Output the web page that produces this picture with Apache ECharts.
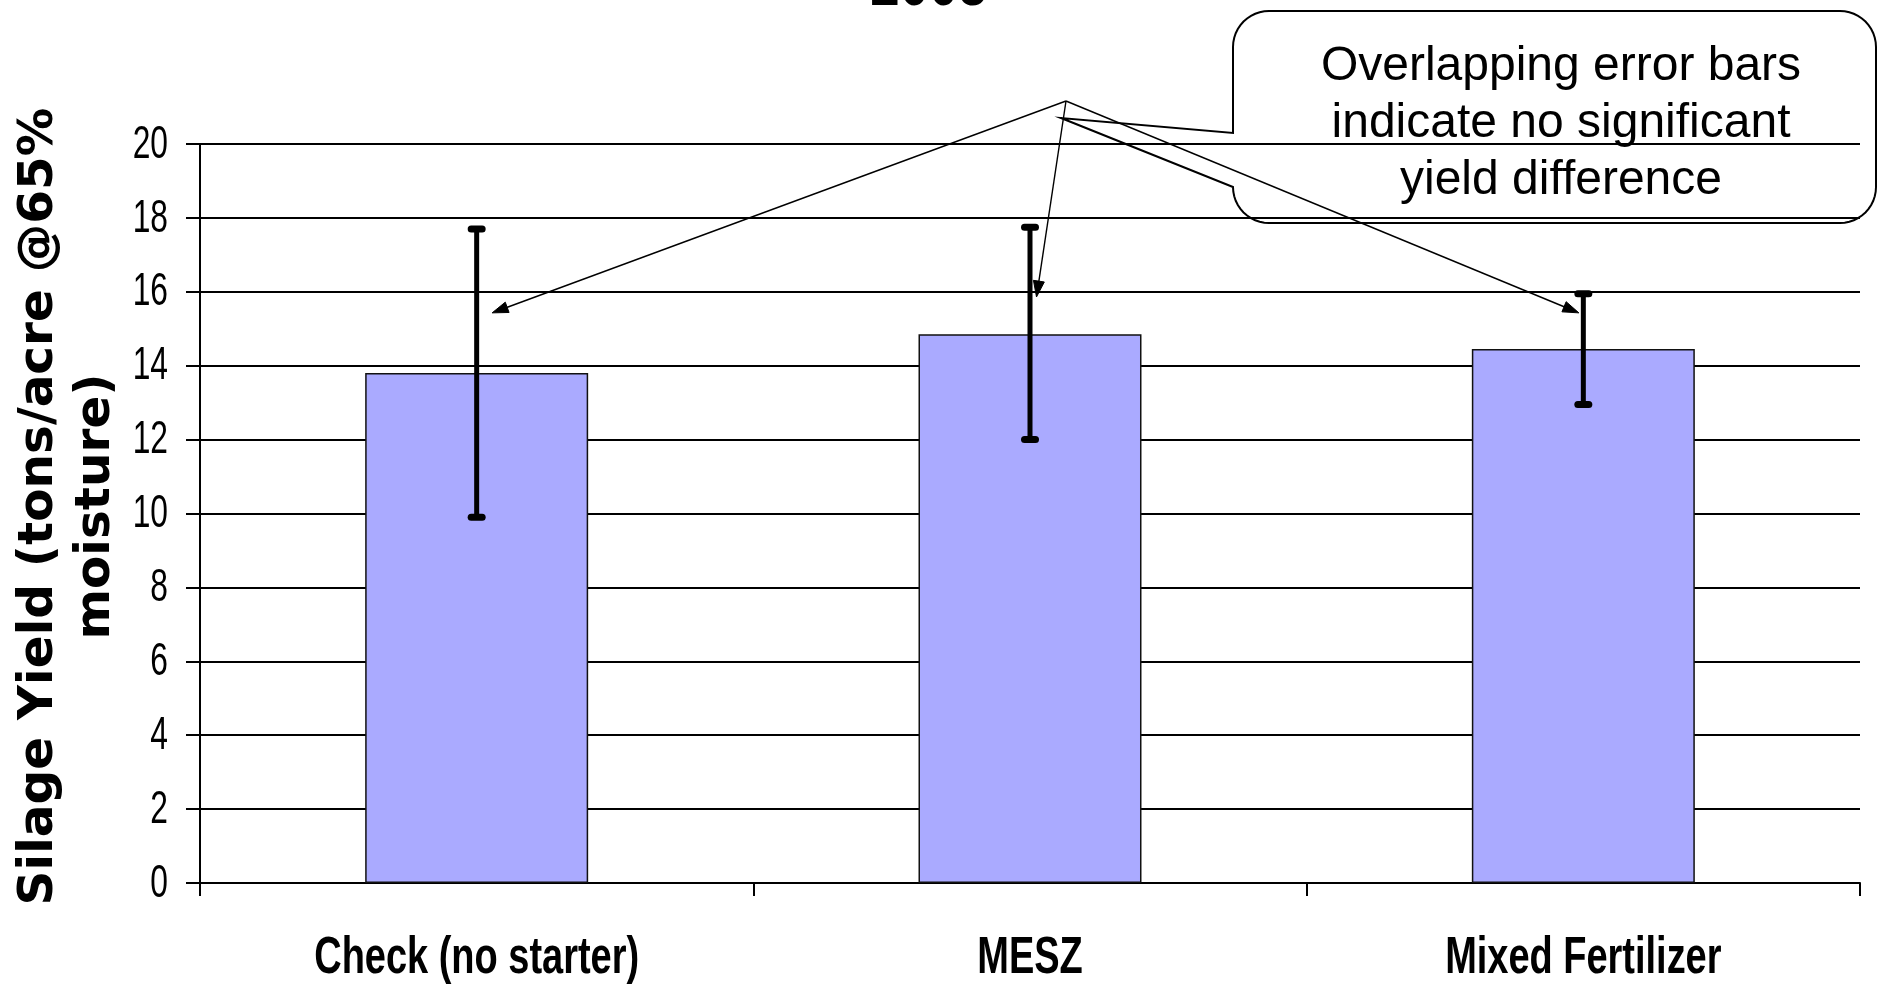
<!DOCTYPE html>
<html>
<head>
<meta charset="utf-8">
<script src="https://cdn.jsdelivr.net/npm/echarts@6/dist/echarts.min.js"></script>
<style>
html,body{margin:0;padding:0;background:#fff;overflow:hidden}
#c{width:1878px;height:988px}
</style>
</head>
<body>
<div id="c"></div>
<script>
// ---- data ----
const categories = ['Check (no starter)', 'MESZ', 'Mixed Fertilizer'];
const yieldMeans = [13.8, 14.85, 14.45];
const errorLow = [9.9, 12.0, 12.95];
const errorHigh = [17.7, 17.75, 15.95];
const yTickValues = [0, 2, 4, 6, 8, 10, 12, 14, 16, 18, 20];
const yTickLabels = ['0', '2', '4', '6', '8', '10', '12', '14', '16', '18', '20'];
const arrowTargets = [15.43, 15.86, 15.43];
const titleText = '2005';
const yAxisTitle = 'Silage Yield (tons/acre @65%\nmoisture)';
const calloutLines = ['Overlapping error bars', 'indicate no significant', 'yield difference'];

// ---- chart ----
const SANS = "'Liberation Sans',Arial,sans-serif";
const chart = echarts.init(document.getElementById('c'), null, {renderer: 'canvas', width: 1878, height: 988});

function renderErrorBar(params, api) {
  const x = api.value(0);
  const lo = api.coord([x, api.value(1)]);
  const hi = api.coord([x, api.value(2)]);
  const half = 5.5;
  return {
    type: 'group',
    children: [
      {type: 'line', shape: {x1: lo[0], y1: lo[1], x2: hi[0], y2: hi[1]}, style: {stroke: '#000', lineWidth: 5}},
      {type: 'line', shape: {x1: hi[0] - half, y1: hi[1], x2: hi[0] + half, y2: hi[1]}, style: {stroke: '#000', lineWidth: 7, lineCap: 'round'}},
      {type: 'line', shape: {x1: lo[0] - half, y1: lo[1], x2: lo[0] + half, y2: lo[1]}, style: {stroke: '#000', lineWidth: 7, lineCap: 'round'}}
    ]
  };
}

const option = {
  animation: false,
  backgroundColor: '#fff',
  grid: {left: 200, right: 18, top: 144, bottom: 105, outerBoundsMode: 'none', containLabel: false},
  xAxis: {
    type: 'category',
    data: categories,
    boundaryGap: true,
    axisLine: {lineStyle: {color: '#000', width: 2}},
    axisTick: {show: true, length: 13, lineStyle: {color: '#000', width: 2}},
    axisLabel: {show: false},
    splitLine: {show: false}
  },
  yAxis: {
    type: 'value',
    min: 0, max: 20, interval: 2,
    name: yAxisTitle,
    nameLocation: 'middle',
    nameRotate: 90,
    nameGap: 75,
    nameTextStyle: {fontFamily: "'DejaVu Sans',sans-serif", fontWeight: 'bold', fontSize: 48.5, lineHeight: 57, color: '#000', padding: [0, 0, 0, 14]},
    axisLine: {show: true, lineStyle: {color: '#000', width: 2}},
    axisTick: {show: true, length: 14, lineStyle: {color: '#000', width: 2}},
    axisLabel: {show: false},
    splitLine: {show: true, lineStyle: {color: '#000', width: 2}}
  },
  series: [
    {
      type: 'bar',
      data: yieldMeans,
      barWidth: '40.3%',
      itemStyle: {color: '#aaaaff', borderColor: '#111', borderWidth: 1.5}
    },
    {
      type: 'custom',
      data: categories.map((c, i) => [i, errorLow[i], errorHigh[i]]),
      encode: {x: 0, y: [1, 2]},
      renderItem: renderErrorBar,
      z: 5
    }
  ]
};
chart.setOption(option);

// ---- narrow texts (labels drawn as condensed text), title, callout, arrows ----
const gfx = [];

// category labels, placed at the category centres given by the x axis
categories.forEach((c, i) => {
  const p = chart.convertToPixel({seriesIndex: 0}, [i, 0]);
  gfx.push({
    type: 'text', z: 10, x: p[0], y: p[1] + 76, scaleX: 0.73,
    style: {text: c, x: 0, y: 0, align: 'center', verticalAlign: 'middle',
      fontFamily: SANS, fontWeight: 'bold', fontSize: 52, fill: '#000'}
  });
});

// value-axis tick labels, placed at the tick positions given by the y axis
yTickValues.forEach((v, i) => {
  const p = chart.convertToPixel({seriesIndex: 0}, [0, v]);
  gfx.push({
    type: 'text', z: 10, x: 168, y: p[1] + 1, scaleX: 0.69,
    style: {text: yTickLabels[i], x: 0, y: 0, align: 'right', verticalAlign: 'middle',
      fontFamily: SANS, fontSize: 46, fill: '#000'}
  });
});

// title (only its lower part is inside the picture)
gfx.push({
  type: 'text', z: 10, x: 929, y: 10 - 0.35 * 66, scaleX: 0.8,
  style: {text: titleText, x: 0, y: 0, align: 'center', verticalAlign: 'middle',
    fontFamily: SANS, fontWeight: 'bold', fontSize: 66, fill: '#000'}
});

function calloutPoints(L, T, R, B, r, tailTop, tailBot, tip) {
  const pts = [];
  const arc = (cx, cy, a0, a1) => {
    for (let k = 0; k <= 12; k++) {
      const a = a0 + (a1 - a0) * k / 12;
      pts.push([cx + r * Math.cos(a), cy + r * Math.sin(a)]);
    }
  };
  arc(L + r, T + r, Math.PI, 1.5 * Math.PI);
  arc(R - r, T + r, 1.5 * Math.PI, 2 * Math.PI);
  arc(R - r, B - r, 0, 0.5 * Math.PI);
  arc(L + r, B - r, 0.5 * Math.PI, Math.PI);
  pts.push([L, tailBot]);
  pts.push(tip);
  pts.push([L, tailTop]);
  return pts;
}
gfx.push({
  type: 'polygon', z: 10,
  shape: {points: calloutPoints(1233, 11, 1876, 223, 36, 133, 187, [1061, 118])},
  style: {fill: 'none', stroke: '#000', lineWidth: 2}
});
gfx.push({
  type: 'text', z: 10,
  style: {text: calloutLines.join('\n'), x: 1561, y: 124, align: 'center', verticalAlign: 'middle',
    fontFamily: SANS, fontSize: 48, lineHeight: 57, fill: '#000'}
});

const apex = [1066, 101];
const arrowDx = [15.5, 6.5, -4.5];
arrowTargets.forEach((v, i) => {
  const p = chart.convertToPixel({seriesIndex: 0}, [i, v]);
  const tip = [p[0] + arrowDx[i], p[1]];
  const dx = tip[0] - apex[0], dy = tip[1] - apex[1];
  const len = Math.sqrt(dx * dx + dy * dy);
  const ux = dx / len, uy = dy / len;
  const nx = -uy, ny = ux;
  const L = 16, w = 5.5;
  const base = [tip[0] - L * ux, tip[1] - L * uy];
  gfx.push({
    type: 'line', z: 10,
    shape: {x1: apex[0], y1: apex[1], x2: base[0] + 2 * ux, y2: base[1] + 2 * uy},
    style: {stroke: '#000', lineWidth: 1.4}
  });
  gfx.push({
    type: 'polygon', z: 10,
    shape: {points: [tip, [base[0] + w * nx, base[1] + w * ny], [base[0] - w * nx, base[1] - w * ny]]},
    style: {fill: '#000', stroke: '#000', lineWidth: 1}
  });
});

chart.setOption({graphic: {elements: gfx}});
</script>
</body>
</html>
